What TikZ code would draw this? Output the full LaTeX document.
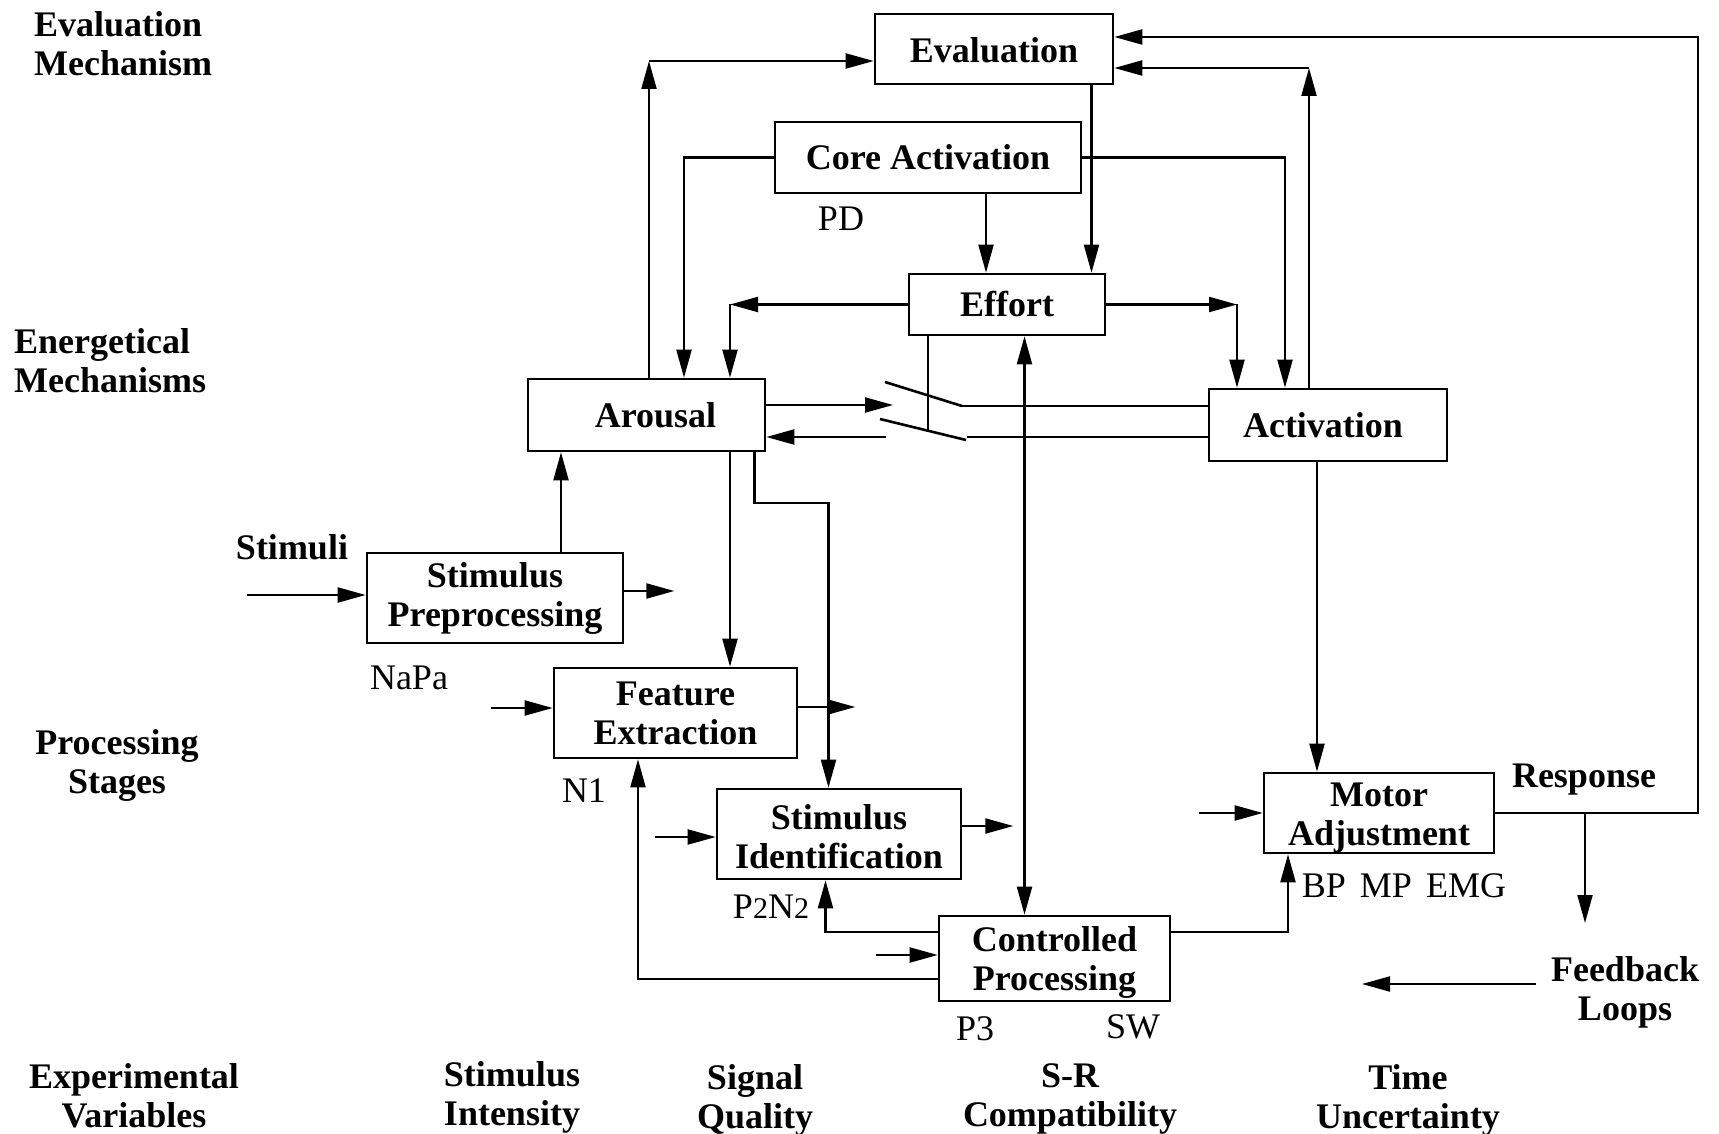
\documentclass[tikz,border=0pt]{standalone}
\usepackage{fontspec}
\setmainfont{Liberation Serif}
\usetikzlibrary{arrows.meta,calc}

\begin{document}
\begin{tikzpicture}[x=0.5pt,y=-0.5pt,line width=1.05pt,
		box/.style={draw,line width=1.3pt,inner sep=0pt,align=center,font=\bfseries\fontsize{18}{19.5}\selectfont},
		heading/.style={inner sep=0pt,align=center,font=\bfseries\fontsize{18}{19.5}\selectfont},
		erp/.style={inner sep=0pt,anchor=base,font=\fontsize{18}{20}\selectfont},
		arr/.style={-{Triangle[length=14pt,width=7.5pt]}},
		arrboth/.style={{Triangle[length=14pt,width=7.5pt]}-{Triangle[length=14pt,width=7.5pt]}}]
	\useasboundingbox (0,0) rectangle (1719,1134);

	% Boxes
	\node[box,minimum width=119pt,minimum height=35pt] (eval) at (994,49) {\rule{0pt}{14pt}Evaluation};
	\node[box,minimum width=153pt,minimum height=35.5pt] (core) at (928,157.5) {Core Activation};
	\node[box,minimum width=98pt,minimum height=30.5pt] (effort) at (1007,304.5) {Effort};
	\node[box,minimum width=118.5pt,minimum height=36pt] (arousal) at (646.5,415) {\hspace{9pt}Arousal};
	\node[box,minimum width=119pt,minimum height=36pt] (activation) at (1328,425) {Activation\hspace{5pt}};
	\node[box,minimum width=128pt,minimum height=45pt] (stimpre) at (495,598) {Stimulus\\Preprocessing};
	\node[box,minimum width=121.5pt,minimum height=45pt] (feature) at (675.5,713) {Feature\\Extraction};
	\node[box,minimum width=122pt,minimum height=45pt] (stimid) at (839,834) {\rule{0pt}{15pt}Stimulus\\Identification};
	\node[box,minimum width=115.5pt,minimum height=42.5pt] (ctrl) at (1054.5,958.5) {\rule{0pt}{16.5pt}Controlled\\Processing};
	\node[box,minimum width=115pt,minimum height=40pt] (motor) at (1379,813) {\rule{0pt}{16.5pt}Motor\\Adjustment};

	% Evaluation and energetical loops
	\coordinate (cA) at (649,61);
	\draw[arr] (arousal.north -| cA) -- (cA);
	\draw[arr] (cA) -- (cA -| eval.west);
	\draw[arr] (core.west) -| ($(arousal.north)+(37.5,0)$);
	\coordinate (cE) at (730,304.5);
	\draw[arr] (effort.west) -- (cE);
	\draw[arr] (cE) -- (cE |- arousal.north);
	\coordinate (cF) at (1237,304.5);
	\draw[arr] (effort.east) -- (cF);
	\draw[arr] (cF) -- (cF |- activation.north);
	\draw[arr] (core.east) -| ($(activation.north)+(-43,0)$);
	\coordinate (cH) at (1309,68);
	\draw[arr] (activation.north -| cH) -- (cH);
	\draw[arr] (cH) -- (cH -| eval.east);
	\coordinate (cT) at (1698,37);
	\draw[arr] (motor.east) -| (cT) -- (cT -| eval.east);
	\coordinate (cI) at (1091.5,0);
	\draw[arr] (eval.south -| cI) -- (effort.north -| cI);
	\coordinate (cJ) at (986,0);
	\draw[arr] (core.south -| cJ) -- (effort.north -| cJ);

	% Switch between arousal and activation
	\coordinate (sw1) at (893,405);
	\coordinate (sw2) at (886,437);
	\draw[arr] (arousal.east |- sw1) -- (sw1);
	\draw[arr] (sw2) -- (arousal.east |- sw2);
	\coordinate (swa) at (885,382);
	\coordinate (swb) at (962,406);
	\coordinate (swc) at (880,419);
	\coordinate (swd) at (966,440);
	\coordinate (swe) at (928,430);
	\coordinate (swf) at (967,437);
	\draw[line width=1.3pt] (swa) -- (swb);
	\draw[line width=1.3pt] (swc) -- (swd);
	\draw (swb) -- (swb -| activation.west);
	\draw (swf) -- (swf -| activation.west);
	\draw (effort.south -| swe) -- (swe);
	\coordinate (cK) at (1024.5,0);
	\draw[arrboth] (effort.south -| cK) -- (ctrl.north -| cK);

	% Processing stages
	\coordinate (cL) at (561,0);
	\draw[arr] (stimpre.north -| cL) -- (arousal.south -| cL);
	\draw[arr] (arousal.south -| cE) -- (feature.north -| cE);
	\coordinate (cM) at (754.5,503);
	\coordinate (cN) at (828.5,503);
	\draw[arr] (arousal.south -| cM) -- (cM) -- (cN) -- (stimid.north -| cN);

	\draw[arr] ($(stimpre.west)+(-119,-3)$) -- ($(stimpre.west)+(0,-3)$);
	\draw[arr] ($(stimpre.east)+(0,-7)$) -- +(50,0);
	\draw[arr] ($(feature.west)+(-62,-5)$) -- ($(feature.west)+(0,-5)$);
	\draw[arr] ($(feature.east)+(0,-6)$) -- +(57,0);
	\draw[arr] ($(stimid.west)+(-61,3)$) -- ($(stimid.west)+(0,3)$);
	\draw[arr] ($(stimid.east)+(0,-8)$) -- +(51,0);
	\draw[arr] ($(ctrl.west)+(-62,-3.5)$) -- ($(ctrl.west)+(0,-3.5)$);
	\draw[arr] ($(motor.west)+(-64,0)$) -- (motor.west);

	% Feedback from controlled processing
	\draw[arr] ($(ctrl.west)+(0,-26.5)$) -| ($(stimid.south)+(-13.5,0)$);
	\draw[arr] ($(ctrl.west)+(0,20.5)$) -| ($(feature.south)+(-37.5,0)$);
	\draw[arr] ($(ctrl.east)+(0,-26.5)$) -| ($(motor.south)+(-91,0)$);
	\coordinate (cP) at (1317,0);
	\draw[arr] (activation.south -| cP) -- (motor.north -| cP);
	\coordinate (cR) at (1585,923);
	\draw[arr] (motor.east -| cR) -- (cR);
	\coordinate (fbA) at (1536,984);
	\coordinate (fbB) at (1362,984);
	\draw[arr] (fbA) -- (fbB);

	% Level headings
	\node[heading,anchor=north west,align=left] (evalmech) at (33,10) {Evaluation\\Mechanism};
	\node[heading,anchor=north west,align=left] (enermech) at (13,327) {Energetical\\Mechanisms};
	\node[heading,anchor=north] (procstages) at (117,728) {Processing\\Stages};
	\node[heading,anchor=north] (expvars) at (134,1062) {Experimental\\Variables};
	\node[heading,anchor=north] (intensity) at (512,1060) {Stimulus\\Intensity};
	\node[heading,anchor=north] (quality) at (755,1063) {Signal\\Quality};
	\node[heading,anchor=north] (compat) at (1070,1063) {S-R\\Compatibility};
	\node[heading,anchor=north] (uncert) at (1408,1063) {Time\\Uncertainty};
	\node[heading,anchor=north] (loops) at (1625,955) {Feedback\\Loops};
	\node[heading,anchor=base] (stimuli) at (292,559) {Stimuli};
	\node[heading,anchor=base] (response) at (1584,787) {Response};

	% Components
	\node[erp] (pdlbl) at (841,231) {PD};
	\node[erp] (napalbl) at (409,689) {NaPa};
	\node[erp] (n1lbl) at (584,802) {N1};
	\node[erp] (p2n2lbl) at (771,918) {P{\fontsize{15}{18}\selectfont 2}N{\fontsize{15}{18}\selectfont 2}};
	\node[erp] (p3lbl) at (975,1040) {P3};
	\node[erp] (swlbl) at (1133,1038) {SW};
	\node[erp] (motorlbl) at (1404,897) {BP\hspace{7pt}MP\hspace{7pt}EMG};
\end{tikzpicture}
\end{document}
